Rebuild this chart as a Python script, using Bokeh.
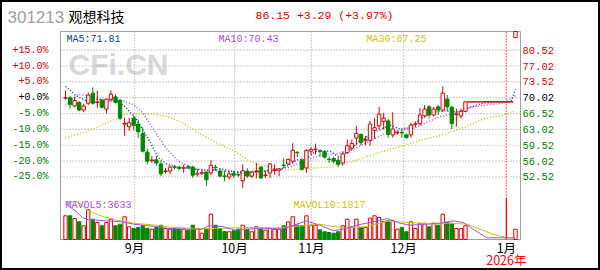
from bokeh.plotting import figure
from bokeh.models import Range1d, Label, LabelSet, ColumnDataSource
from bokeh.core.properties import value, field
from bokeh.embed import file_html
from bokeh.resources import INLINE

# ---------------- data ----------------
opens = [69.90, 70.00, 68.20, 69.00, 67.30, 68.80, 71.00, 68.95, 69.40, 67.50,
         69.70, 70.20, 69.40, 64.20, 63.60, 65.50, 64.20, 62.10, 58.00, 56.10,
         56.30, 55.40, 53.70, 53.80, 54.75, 54.60, 54.45, 54.75, 54.70, 53.15,
         53.35, 53.60, 53.40, 54.70, 53.80, 52.75, 52.50, 53.30, 53.05, 51.70,
         53.80, 52.70, 53.70, 54.70, 52.85, 53.40, 53.95, 54.00, 55.15, 55.40,
         56.00, 57.95, 56.20, 54.50, 58.20, 58.55, 58.25, 58.10, 56.45, 56.60,
         56.20, 55.60, 57.90, 58.90, 61.10, 61.90, 60.50, 60.60, 62.80, 63.80,
         64.80, 64.90, 61.80, 62.25, 62.35, 61.80, 61.80, 64.15, 64.30, 66.00,
         68.00, 66.20, 68.00, 67.30, 69.70, 67.90, 66.30, 66.00, 67.00, 69.10,
         69.10, 69.10, 69.10, 69.10, 69.10, 69.10, 69.10, 69.10, 69.10, 83.30]
highs = [71.60, 70.40, 70.20, 69.30, 68.70, 71.20, 72.30, 71.60, 69.70, 69.70,
         71.60, 70.80, 69.80, 65.60, 65.60, 66.00, 65.20, 63.50, 58.80, 57.10,
         57.20, 56.10, 54.50, 55.00, 55.20, 55.00, 55.20, 55.10, 55.00, 54.30,
         54.00, 53.80, 56.20, 55.20, 54.50, 53.90, 53.80, 53.90, 53.60, 55.30,
         54.40, 53.90, 55.60, 54.90, 53.90, 55.60, 55.30, 54.50, 56.60, 56.60,
         60.00, 58.20, 56.70, 58.60, 59.10, 59.90, 58.60, 58.40, 57.00, 57.00,
         56.90, 58.20, 60.80, 60.80, 63.80, 62.10, 61.60, 64.90, 65.50, 68.00,
         66.70, 65.30, 66.80, 62.80, 63.00, 62.10, 64.50, 64.80, 67.70, 68.40,
         68.40, 68.00, 68.40, 72.50, 70.60, 68.20, 67.60, 67.60, 69.30, 69.10,
         69.10, 69.10, 69.10, 69.10, 69.10, 69.10, 69.10, 69.10, 69.10, 86.15]
lows = [69.60, 67.60, 67.90, 67.00, 66.80, 68.40, 68.50, 67.80, 67.60, 66.50,
        69.20, 68.70, 65.10, 61.60, 62.70, 62.80, 61.20, 57.90, 55.30, 55.60,
        55.00, 52.70, 53.30, 53.10, 54.20, 54.00, 53.40, 54.20, 52.30, 52.60,
        52.90, 50.50, 52.90, 53.80, 52.50, 51.60, 51.90, 52.30, 52.50, 50.10,
        52.30, 52.30, 52.20, 52.10, 52.30, 52.30, 53.00, 52.70, 54.40, 55.10,
        55.50, 56.90, 53.90, 53.40, 57.50, 57.50, 57.10, 56.60, 55.60, 55.50,
        54.70, 55.00, 57.60, 58.40, 59.50, 59.50, 59.50, 59.40, 60.90, 63.00,
        63.00, 61.20, 61.20, 61.80, 61.20, 61.00, 61.20, 63.50, 63.90, 65.60,
        65.40, 65.90, 66.20, 66.80, 67.00, 63.10, 63.60, 65.40, 66.80, 69.10,
        69.10, 69.10, 69.10, 69.10, 69.10, 69.10, 69.10, 69.10, 69.10, 83.30]
closes = [70.02, 68.50, 69.40, 67.30, 68.20, 70.60, 68.80, 69.10, 67.90, 69.70,
          70.80, 69.00, 65.50, 64.35, 64.50, 63.90, 62.50, 58.20, 56.00, 56.25,
          55.60, 53.20, 53.85, 54.70, 54.65, 54.40, 54.55, 54.65, 52.90, 53.25,
          53.45, 51.90, 55.10, 54.55, 52.70, 52.65, 53.20, 52.90, 52.95, 53.90,
          52.70, 53.60, 53.85, 52.30, 52.95, 55.40, 54.05, 54.30, 55.05, 56.40,
          58.40, 57.85, 54.20, 58.40, 58.60, 58.65, 58.15, 56.90, 56.35, 56.00,
          55.30, 57.60, 59.40, 59.90, 62.10, 60.10, 60.80, 64.20, 63.40, 66.40,
          65.50, 61.90, 63.10, 62.35, 62.25, 61.20, 64.00, 64.25, 66.20, 67.50,
          66.20, 67.50, 67.30, 71.00, 68.00, 64.30, 66.45, 67.00, 69.10, 69.10,
          69.10, 69.10, 69.10, 69.10, 69.10, 69.10, 69.10, 69.10, 69.10, 86.15]
volumes = [41800, 41800, 37000, 31200, 24200, 52400, 35800, 30000, 24200, 30000,
           35800, 24200, 27000, 40000, 22400, 19400, 21200, 24200, 19900, 18200,
           21200, 25200, 19400, 18200, 19400, 18200, 18200, 16400, 25200, 19400,
           11100, 18200, 44600, 25200, 19400, 14100, 13600, 15300, 18200, 25200,
           18200, 13600, 22400, 18200, 16400, 19900, 18200, 18200, 24200, 31200,
           40000, 25200, 24700, 41800, 25200, 25200, 17100, 13600, 12300, 11100,
           13600, 24200, 35800, 21200, 35800, 21200, 21200, 37600, 41800, 38800,
           31700, 33000, 33000, 18200, 21200, 13600, 31200, 19400, 28700, 28700,
           22400, 28700, 25200, 44600, 30000, 28700, 19400, 19400, 24200, 0,
           0, 0, 0, 0, 0, 0, 0, 0, 0, 18165]

ma5_x = [0, 1.1, 2.2, 4.4, 6.6, 8.8, 11, 13.2, 15.4, 16.9, 18.7, 20.4, 22.4, 24.8,
         28.6, 31.4, 34.5, 38.9, 41.8, 45, 47.9, 51, 52.7, 55.4, 58.2, 60.4, 62.6,
         64.8, 68.6, 71.4, 73.6, 75.8, 78.7, 81.8, 84.6, 86.8, 89, 91.9, 94.5, 98, 99]
ma5_v = [72.5, 71.6, 70.5, 69.4, 69.7, 69.4, 69.7, 67.9, 65.6, 63.1, 60.1, 56.8, 55.3, 54.7,
         54.2, 54.0, 54.2, 53.4, 53.6, 54.0, 54.4, 56.3, 56.4, 58.4, 58.2, 56.8, 58.6,
         60.5, 62.7, 64.0, 63.1, 63.4, 65.8, 67.0, 67.1, 66.8, 67.9, 68.8, 69.0, 69.1, 71.81]
ma10_x = [0, 2.5, 4.8, 7.3, 9.9, 12.5, 14.7, 16.9, 19.1, 22, 24.8, 27, 29.2, 34.5, 38.9,
          41.5, 45.1, 49.5, 52.3, 55.4, 58.9, 62.6, 65.5, 69.9, 73.6, 76.5, 78.7, 81.8,
          84.6, 89, 93.4, 96.3, 99]
ma10_v = [68.3, 70.6, 70.6, 69.7, 69.2, 69.4, 68.6, 66.8, 63.4, 59.0, 56.0, 54.9, 54.2, 53.8, 53.6,
          53.5, 54.0, 54.7, 56.0, 57.1, 57.5, 58.2, 59.7, 61.9, 62.8, 63.3, 64.2, 65.6,
          66.4, 67.9, 68.5, 68.8, 70.43]
ma30_x = [0, 5.1, 8.8, 11.6, 13.2, 19.8, 22.6, 25.7, 28.6, 31.4, 34.5, 37.4, 40.7, 44.4,
          47.9, 53.8, 58.9, 64.2, 69.9, 74.3, 78.7, 83.1, 87.5, 91.9, 97.8, 99]
ma30_v = [61.1, 62.7, 64.3, 65.6, 66.4, 66.4, 65.8, 64.5, 62.7, 61.1, 59.4, 58.1, 55.9, 54.7,
          54.0, 54.4, 54.8, 56.3, 58.2, 59.4, 60.8, 61.9, 63.4, 65.3, 66.5, 67.25]

mavol5_x = [0, 2.2, 3.7, 5.1, 8.8, 12.5, 15, 19.8, 22.6, 27, 30, 31.4, 34.5, 37.4, 40.2,
            43.3, 47.7, 53, 56, 59, 61, 64, 67, 70.8, 73.6, 75.8, 79.6, 82.4, 85.3, 87.5,
            89.7, 92.7, 98.5, 99]
mavol5_v = [62300, 50600, 38800, 34700, 32900, 31200, 27000, 22900, 19400, 18200, 18200,
            24100, 22900, 16400, 18200, 20000, 18200, 32900, 25200, 15300, 18200, 25200,
            30000, 37000, 28800, 25200, 27000, 28800, 32900, 30000, 18200, 3000, 3000, 3633]
mavol10_x = [0, 2.6, 5.1, 7.3, 11, 15, 19.8, 23.5, 29.3, 35.8, 40.2, 45.5, 52, 56, 58.9,
             62, 66.4, 70.8, 75.8, 80.9, 84, 88.4, 91.2, 94, 97.1, 99]
mavol10_v = [66400, 66400, 50600, 42900, 34700, 28800, 25300, 21200, 19400, 20000, 21200,
             20000, 24100, 27000, 22900, 20000, 22900, 32300, 30000, 27000, 28800, 27000,
             18200, 9400, 3500, 1817]

price_ticks = [80.52, 77.02, 73.52, 70.02, 66.52, 63.02, 59.52, 56.02, 52.52]
price_labels = ["80.52", "77.02", "73.52", "70.02", "66.52", "63.02", "59.52", "56.02", "52.52"]
pct_labels = ["+15.0%", "+10.0%", "+5.0%", "+0.0%", "-5.0%", "-10.0%", "-15.0%", "-20.0%", "-25.0%"]
month_ticks = [15.2, 37.2, 54.1, 74.4, 97.0]
month_labels = ["9月", "10月", "11月", "12月", "1月"]
year_label = "2026年"

code = "301213"
name = "观想科技"
quote = "86.15 +3.29 (+3.97%)"
ma_legend = ["MA5:71.81", "MA10:70.43", "MA30:67.25"]
vol_legend = ["MAVOL5:3633", "MAVOL10:1817"]

# ---------------- layout / styling ----------------
RED = "#dd0000"
GREEN = "#008800"
TXT_RED = "#e00000"
TXT_GREEN = "#008000"
MA5C = "#0a3f96"
MA10C = "#a050ee"
MA30C = "#c8c800"
GRID = "#a8a8a8"
MONO = "Liberation Mono"
CJK = "Noto Sans CJK SC"

W, H = 600, 270
PX_PER_DAY = 4.545        # horizontal pixels per trading day
X0_PX = 65                # pixel column of day 0
BASE = 70.02              # price at the 0.0% line
BASE_PX = 97.2            # pixel row of BASE
PX_PER_YUAN = 4.528
VOL_PER_PX = 1763
PANEL = dict(left=60, right=520, top=31, bottom=239)

def xd(px):   # pixel column -> day index
    return (px - X0_PX) / PX_PER_DAY

def pd_(py):  # pixel row -> price
    return BASE + (BASE_PX - py) / PX_PER_YUAN

def vd(py):   # pixel row -> volume
    return (PANEL["bottom"] - py) * VOL_PER_PX

p = figure(width=W, height=H, output_backend="svg", toolbar_location=None,
           x_range=Range1d(xd(0), xd(W)), y_range=Range1d(pd_(H), pd_(0)),
           x_axis_location=None, y_axis_location=None, min_border=0)
p.extra_y_ranges = {"vol": Range1d(vd(H), vd(0))}
p.xgrid.visible = False
p.ygrid.visible = False
p.background_fill_color = "white"
p.border_fill_color = "white"
p.outline_line_color = "black"
p.outline_line_width = 3

pl, pr = xd(PANEL["left"]), xd(PANEL["right"])
pt, pb = pd_(PANEL["top"]), pd_(PANEL["bottom"])

# watermark
p.add_layout(Label(x=68, y=H - 64, x_units="screen", y_units="screen", text="CFi.CN",
                   text_font="Liberation Sans", text_font_style="bold",
                   text_font_size="30px", text_color="#d8d8d8", text_baseline="middle",
                   level="underlay"))

# grid lines
p.segment(x0=[pl] * len(price_ticks), x1=[pr] * len(price_ticks), y0=price_ticks,
          y1=price_ticks, line_color=GRID, line_dash="1 2", line_width=1.2)
mt = month_ticks[:-1]
p.segment(x0=mt, x1=mt, y0=[pb] * len(mt), y1=[pt] * len(mt),
          line_color=GRID, line_dash="1 2", line_width=1.2)

# panel frame
p.quad(left=[pl], right=[pr], bottom=[pb], top=[pt], fill_color=None,
       line_color="#a0a0a0", line_width=1)

# year separator (dotted over the price area, solid over the volume area)
ysep = month_ticks[-1]
p.segment(x0=[ysep], x1=[ysep], y0=[pd_(198)], y1=[pt], line_color="#ff0000",
          line_dash="1 2", line_width=1.3)
p.segment(x0=[ysep], x1=[ysep], y0=[0], y1=[vd(198)], y_range_name="vol",
          line_color="#ff0000", line_width=1.3)

# MA lines
p.line(ma30_x, ma30_v, line_color=MA30C, line_dash="1 2", line_width=1.5)
p.line(ma10_x, ma10_v, line_color=MA10C, line_dash="1 2", line_width=1.5)
p.line(ma5_x, ma5_v, line_color=MA5C, line_dash="1 2", line_width=1.5)

# candles (clipped to the panel top)
n = len(closes)
xs = list(range(n))
up = [c >= o for o, c in zip(opens, closes)]
col = [RED if u else GREEN for u in up]
fill = ["white" if u else GREEN for u in up]
flat = [v == 0 for v in volumes]
src = ColumnDataSource(dict(
    x=xs, high=[min(h, pt) for h in highs], low=lows,
    top=[min(max(o, c), pt) for o, c in zip(opens, closes)],
    bottom=[min(o, c) for o, c in zip(opens, closes)],
    color=col, fill=fill, w=[1.02 if f else 0.74 for f in flat]))
p.segment(x0="x", y0="low", x1="x", y1="high", line_color="color", line_width=1, source=src)
p.vbar(x="x", width="w", top="top", bottom="bottom", fill_color="fill",
       line_color="color", line_width=1, source=src)

# volume
vi = [i for i in xs if volumes[i] > 0]
vsrc = ColumnDataSource(dict(x=vi, vol=[volumes[i] for i in vi],
                             color=[col[i] for i in vi], fill=[fill[i] for i in vi]))
p.vbar(x="x", width=0.74, top="vol", bottom=0, fill_color="fill", line_color="color",
       line_width=1, y_range_name="vol", source=vsrc)
p.line(mavol10_x, mavol10_v, line_color=MA30C, line_width=1, y_range_name="vol")
p.line(mavol5_x, mavol5_v, line_color=MA10C, line_width=1, y_range_name="vol")

# price-axis labels, coloured by sign
def lab_color(s, ref):
    return TXT_RED if s > ref else ("black" if s == ref else TXT_GREEN)

pct_vals = [float(s.replace("%", "")) for s in pct_labels]
lsrc = ColumnDataSource(dict(y=price_ticks, t=pct_labels,
                             c=[lab_color(v, 0.0) for v in pct_vals]))
p.add_layout(LabelSet(x=PANEL["left"] - 12, y="y", x_units="screen", text="t", source=lsrc,
                      text_color=field("c"), text_align="right", text_baseline="middle",
                      text_font=value(MONO), text_font_size=value("10px")))
rsrc = ColumnDataSource(dict(y=price_ticks, t=price_labels,
                             c=[lab_color(v, BASE) for v in price_ticks]))
p.add_layout(LabelSet(x=PANEL["right"] + 2, y="y", x_units="screen", text="t", source=rsrc,
                      text_color=field("c"), text_align="left", text_baseline="middle",
                      text_font=value(MONO), text_font_size=value("10.5px")))

# month labels along the time axis
msrc = ColumnDataSource(dict(x=month_ticks, t=month_labels))
p.add_layout(LabelSet(x="x", y=H - 246.5, y_units="screen", text="t", source=msrc,
                      text_color="black", text_align="center", text_baseline="middle",
                      text_font=value(CJK), text_font_size=value("12.5px")))
p.add_layout(Label(x=month_ticks[-1], y=H - 259, y_units="screen", text=year_label,
                   text_color="#ff0000", text_align="center", text_baseline="middle",
                   text_font=CJK, text_font_size="12.5px"))

# header
p.add_layout(Label(x=7, y=H - 16, x_units="screen", y_units="screen", text=code,
                   text_color="#a0a0a0", text_font="Liberation Sans",
                   text_font_size="17px", text_baseline="middle"))
p.add_layout(Label(x=68, y=H - 15, x_units="screen", y_units="screen", text=name,
                   text_color="black", text_font=CJK,
                   text_font_size="14px", text_baseline="middle"))
p.add_layout(Label(x=255, y=H - 14.5, x_units="screen", y_units="screen", text=quote,
                   text_color=TXT_RED, text_font=MONO,
                   text_font_size="11.5px", text_baseline="middle"))

# legends
for xpos, txt, c in zip([66, 218, 366], ma_legend, [MA5C, MA10C, MA30C]):
    p.add_layout(Label(x=xpos, y=H - 38.5, x_units="screen", y_units="screen", text=txt,
                       text_color=c, text_font=MONO, text_font_size="10px",
                       text_baseline="middle"))
for xpos, txt, c in zip([65, 293], vol_legend, [MA10C, MA30C]):
    p.add_layout(Label(x=xpos, y=H - 205, x_units="screen", y_units="screen", text=txt,
                       text_color=c, text_font=MONO, text_font_size="10px",
                       text_baseline="middle"))

open("out.html", "w").write(file_html(p, INLINE))
